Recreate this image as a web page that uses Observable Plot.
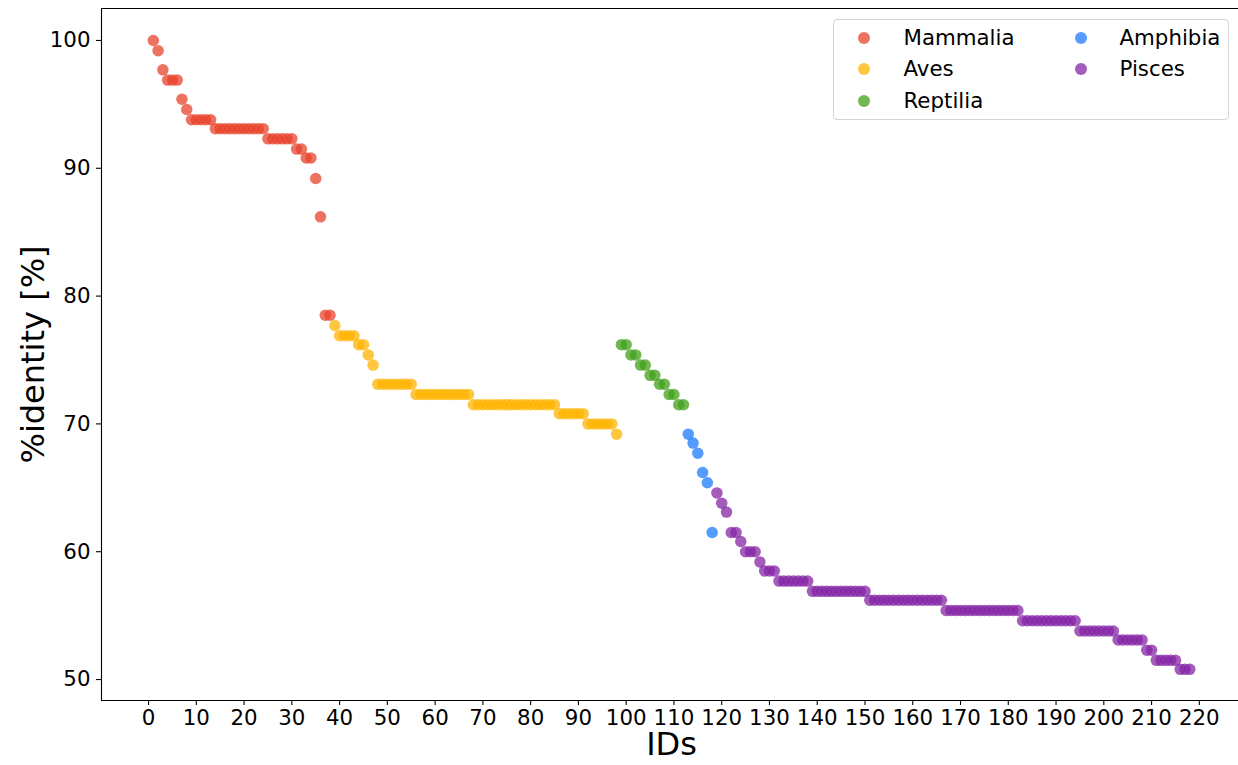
<!DOCTYPE html>
<html>
<head>
<meta charset="utf-8">
<script src="https://cdn.jsdelivr.net/npm/d3@7"></script>
<script src="https://cdn.jsdelivr.net/npm/@observablehq/plot@0.6"></script>
<style>
  html, body { margin: 0; padding: 0; background: white; overflow: hidden; }
  #wrap { position: relative; width: 1238px; height: 765px; font-family: "DejaVu Sans", sans-serif; }
  #legend { position: absolute; left: 833px; top: 19px; width: 396px; height: 101px; box-sizing: border-box;
            border: 1px solid #d4d4d4; border-radius: 4px; background: rgba(255,255,255,0.8); }
  .lg-dot { position: absolute; width: 12px; height: 12px; border-radius: 50%; }
  .lg-txt { position: absolute; font-size: 21.33px; line-height: 24px; color: #000; white-space: nowrap; }
</style>
</head>
<body>
<div id="wrap"><div id="legend"></div></div>
<script>
// ---- data ----
const classes = ["Mammalia", "Aves", "Reptilia", "Amphibia", "Pisces"];
const classColors = ["#E8432B", "#FFB300", "#42A01A", "#1E7BFF", "#8424A6"];

const mammalia = [100, 99.2, 97.7, 96.9, 96.9, 96.9, 95.4, 94.6,
  93.8, 93.8, 93.8, 93.8, 93.8,
  93.1, 93.1, 93.1, 93.1, 93.1, 93.1, 93.1, 93.1, 93.1, 93.1, 93.1,
  92.3, 92.3, 92.3, 92.3, 92.3, 92.3,
  91.5, 91.5, 90.8, 90.8, 89.2, 86.2, 78.5, 78.5];

const aves = [77.7, 76.9, 76.9, 76.9, 76.9, 76.2, 76.2, 75.4, 74.6,
  73.1, 73.1, 73.1, 73.1, 73.1, 73.1, 73.1, 73.1,
  72.3, 72.3, 72.3, 72.3, 72.3, 72.3, 72.3, 72.3, 72.3, 72.3, 72.3, 72.3,
  71.5, 71.5, 71.5, 71.5, 71.5, 71.5, 71.5, 71.5, 71.5, 71.5, 71.5, 71.5, 71.5, 71.5, 71.5, 71.5, 71.5, 71.5,
  70.8, 70.8, 70.8, 70.8, 70.8, 70.8,
  70.0, 70.0, 70.0, 70.0, 70.0, 70.0,
  69.2];

const reptilia = [76.2, 76.2, 75.4, 75.4, 74.6, 74.6, 73.8, 73.8, 73.1, 73.1, 72.3, 72.3, 71.5, 71.5];

const amphibia = [69.2, 68.5, 67.7, 66.2, 65.4, 61.5];

const pisces = [64.6, 63.8, 63.1, 61.5, 61.5, 60.8, 60.0, 60.0, 60.0, 59.2, 58.5, 58.5, 58.5,
  57.7, 57.7, 57.7, 57.7, 57.7, 57.7, 57.7,
  56.9, 56.9, 56.9, 56.9, 56.9, 56.9, 56.9, 56.9, 56.9, 56.9, 56.9, 56.9,
  56.2, 56.2, 56.2, 56.2, 56.2, 56.2, 56.2, 56.2, 56.2, 56.2, 56.2, 56.2, 56.2, 56.2, 56.2, 56.2,
  55.4, 55.4, 55.4, 55.4, 55.4, 55.4, 55.4, 55.4, 55.4, 55.4, 55.4, 55.4, 55.4, 55.4, 55.4, 55.4,
  54.6, 54.6, 54.6, 54.6, 54.6, 54.6, 54.6, 54.6, 54.6, 54.6, 54.6, 54.6,
  53.8, 53.8, 53.8, 53.8, 53.8, 53.8, 53.8, 53.8,
  53.1, 53.1, 53.1, 53.1, 53.1, 53.1,
  52.3, 52.3,
  51.5, 51.5, 51.5, 51.5, 51.5,
  50.8, 50.8, 50.8];

const xTicks = [0, 10, 20, 30, 40, 50, 60, 70, 80, 90, 100, 110, 120, 130, 140, 150, 160, 170, 180, 190, 200, 210, 220];
const yTicks = [50, 60, 70, 80, 90, 100];
const xLabel = "IDs";
const yLabel = "%identity [%]";

// ---- build table (IDs run consecutively in class order) ----
const series = [mammalia, aves, reptilia, amphibia, pisces];
const rows = [];
let id = 1;
series.forEach((vals, ci) => {
  vals.forEach(v => { rows.push({id: id++, identity: v, cls: classes[ci]}); });
});

const xDomain = [-9.85, 228.2];
const yDomain = [48.36, 102.5];

const chart = Plot.plot({
  width: 1238,
  height: 765,
  marginLeft: 101,
  marginRight: 0,
  marginTop: 8,
  marginBottom: 65,
  style: {fontFamily: "DejaVu Sans, sans-serif", fontSize: "21.33px", color: "#000", background: "white", overflow: "visible"},
  x: {domain: xDomain},
  y: {domain: yDomain},
  color: {domain: classes, range: classColors},
  marks: [
    Plot.axisX({ticks: xTicks, tickSize: 5, tickPadding: 4, label: null, fontSize: 21.33, strokeWidth: 1.1}),
    Plot.axisY({ticks: yTicks, tickSize: 5, tickPadding: 6, label: null, fontSize: 21.33, strokeWidth: 1.1}),
    Plot.ruleX([xDomain[0]], {stroke: "#000", strokeWidth: 1.1}),
    Plot.ruleY([yDomain[0]], {stroke: "#000", strokeWidth: 1.1}),
    Plot.ruleY([yDomain[1]], {stroke: "#000", strokeWidth: 1.1}),
    Plot.dot(rows, {x: "id", y: "identity", fill: "cls", r: 5.75, fillOpacity: 0.75, stroke: "none"}),
    Plot.text([xLabel], {frameAnchor: "bottom", dy: 54, dx: 1.5, fontSize: 32, fill: "#000"}),
    Plot.text([yLabel], {frameAnchor: "left", textAnchor: "middle", dx: -68, rotate: -90, fontSize: 32, fill: "#000"})
  ]
});
document.getElementById("wrap").insertBefore(chart, document.getElementById("legend"));

// ---- legend (matplotlib style, 2 columns, column-major) ----
const legend = document.getElementById("legend");
const colX = [[29.5, 69.5], [246.5, 285.5]];
const rowY = [17.5, 49, 80.5];
classes.forEach((c, i) => {
  const col = i < 3 ? 0 : 1;
  const row = i < 3 ? i : i - 3;
  const dot = document.createElement("div");
  dot.className = "lg-dot";
  dot.style.left = (colX[col][0] - 6) + "px";
  dot.style.top = (rowY[row] - 6) + "px";
  dot.style.background = classColors[i];
  dot.style.opacity = 0.75;
  legend.appendChild(dot);
  const t = document.createElement("div");
  t.className = "lg-txt";
  t.style.left = colX[col][1] + "px";
  t.style.top = (rowY[row] - 12) + "px";
  t.textContent = c;
  legend.appendChild(t);
});
</script>
</body>
</html>
